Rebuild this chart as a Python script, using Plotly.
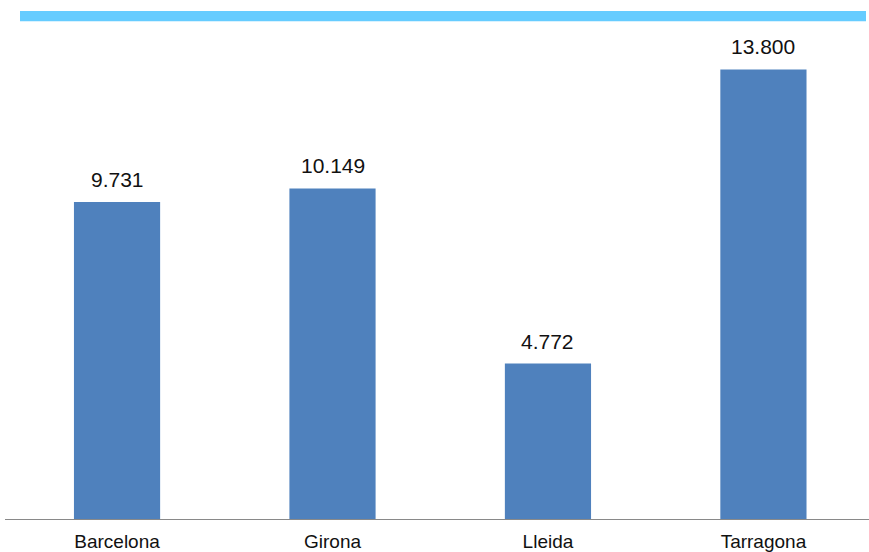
import plotly.graph_objects as go

categories = ["Barcelona", "Girona", "Lleida", "Tarragona"]
values = [9731, 10149, 4772, 13800]
value_labels = ["9.731", "10.149", "4.772", "13.800"]

fig = go.Figure()
fig.add_trace(go.Bar(
    x=categories, y=values,
    marker=dict(color="#4F81BD", line=dict(width=0)),
    hoverinfo="skip",
))

for c, v, t in zip(categories, values, value_labels):
    fig.add_annotation(x=c, y=v, text=t, showarrow=False, yanchor="bottom",
                       yshift=9, font=dict(family="Liberation Sans, Arial", size=21, color="#111111"))

L = 5
W = 869 - L
H = 523
fig.add_shape(type="rect", xref="paper", yref="paper",
              x0=(20 - L) / W, x1=(866 - L) / W,
              y0=1 - 21.5 / H, y1=1 - 11 / H,
              fillcolor="#66CCFF", line=dict(width=0), layer="above")

fig.update_layout(
    width=869, height=552,
    margin=dict(l=L, r=0, t=0, b=552 - H, pad=0),
    paper_bgcolor="white", plot_bgcolor="white",
    bargap=0.6,
    showlegend=False,
    font=dict(family="Liberation Sans, Arial", color="#111111"),
    xaxis=dict(showline=True, linecolor="#898989", linewidth=1, ticks="",
               range=[-0.52, 3.49], ticklabelstandoff=5,
               tickfont=dict(size=19), showgrid=False),
    yaxis=dict(range=[0, 13800 * H / 453], visible=False, showgrid=False),
)

fig.write_html("out.html", config={"displayModeBar": False},
               post_script="document.body.style.margin='0';document.body.style.overflow='hidden';")
